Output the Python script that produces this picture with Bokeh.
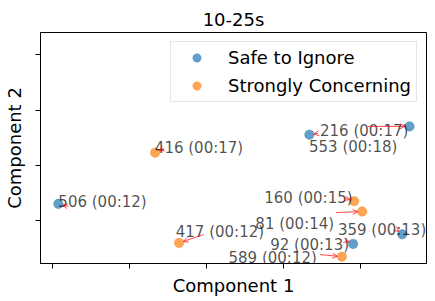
from bokeh.plotting import figure
from bokeh.models import (ColumnDataSource, Arrow, OpenHead, Legend, LegendItem,
                          Range1d, FixedTicker)
from bokeh.embed import file_html
from bokeh.resources import INLINE
from bokeh.core.properties import value
import numpy as np

# ---- data ----
labels = ["506 (00:12)", "553 (00:18)", "216 (00:17)", "359 (00:13)", "92 (00:13)",
          "417 (00:12)", "416 (00:17)", "160 (00:15)", "81 (00:14)", "589 (00:12)"]
category = ["Safe to Ignore"] * 5 + ["Strongly Concerning"] * 5
comp1 = [-1.928, 1.337, 2.639, 2.544, 1.906, -0.358, -0.669, 1.919, 2.023, 1.759]
comp2 = [-0.693, 0.555, 0.705, -1.242, -1.416, -1.398, 0.230, -0.645, -0.832, -1.646]
# label anchor (left, baseline) positions
label_x = [-1.928, 1.332, 1.475, 1.708, 0.828, -0.401, -0.673, 0.750, 0.634, 0.285]
label_y = [-0.651, 0.325, 0.615, -1.157, -1.429, -1.193, 0.307, -0.579, -1.049, -1.664]
# arrow tails
tail_x = [-1.798, 1.449, 2.096, 2.484, 1.811, -0.039, -0.556, 1.785, 1.682, 1.475]
tail_y = [-0.741, 0.579, 0.705, -1.175, -1.356, -1.248, 0.307, -0.579, -0.850, -1.609]
x_ticks = [-2, -1, 0, 1, 2]
y_ticks = [-1, 0, 1, 2]
x_lim = (-2.16, 2.86)
y_lim = (-1.77, 2.40)

colors = {"Safe to Ignore": "#1f77b4", "Strongly Concerning": "#ff7f0e"}

W, H = 428, 300
ML, MR, MT, MB = 38, 2, 32, 37
FONT = "DejaVu Sans"

p = figure(width=W, height=H, output_backend="svg", toolbar_location=None,
           x_range=Range1d(*x_lim), y_range=Range1d(*y_lim),
           min_border_left=ML, min_border_right=MR, min_border_top=MT, min_border_bottom=MB)
p.background_fill_color = "white"
p.border_fill_color = "white"
p.grid.visible = False
p.outline_line_color = "black"
p.outline_line_width = 1
p.outline_line_alpha = 1

p.title.text = "10-25s"
p.title.align = "center"
p.title.text_font = FONT
p.title.text_font_size = "18px"
p.title.text_font_style = "normal"
p.title.text_color = "black"
p.title.standoff = 5

p.xaxis.ticker = FixedTicker(ticks=x_ticks)
p.yaxis.ticker = FixedTicker(ticks=y_ticks)
p.xaxis.major_label_overrides = {t: "" for t in x_ticks}
p.yaxis.major_label_overrides = {t: "" for t in y_ticks}
for ax in (p.xaxis, p.yaxis):
    ax.major_label_text_font_size = "1px"
    ax.major_label_standoff = 0
    ax.minor_tick_line_color = None
    ax.major_tick_in = 0
    ax.major_tick_out = 5
    ax.major_tick_line_color = "black"
    ax.axis_line_color = "black"
    ax.axis_label_text_font = FONT
    ax.axis_label_text_font_size = "18px"
    ax.axis_label_text_font_style = "normal"
    ax.axis_label_text_color = "black"
p.xaxis.axis_label = "Component 1"
p.yaxis.axis_label = "Component 2"
p.xaxis.axis_label_standoff = 6
p.yaxis.axis_label_standoff = 11

# points
renderers = []
for cat in ["Safe to Ignore", "Strongly Concerning"]:
    idx = [i for i, c in enumerate(category) if c == cat]
    src = ColumnDataSource(dict(x=[comp1[i] for i in idx], y=[comp2[i] for i in idx]))
    r = p.scatter("x", "y", source=src, size=9.5, fill_color=colors[cat], fill_alpha=0.7,
                  line_color=colors[cat], line_alpha=0.7, line_width=0.5)
    renderers.append((cat, r))

# arrows: shrink head back from point centre by a few px
frame_w = W - ML - MR
frame_h = H - MT - MB
sx = frame_w / (x_lim[1] - x_lim[0])
sy = frame_h / (y_lim[1] - y_lim[0])
px = np.array(comp1) * sx
py = np.array(comp2) * sy
tx = np.array(tail_x) * sx
ty = np.array(tail_y) * sy
dx, dy = px - tx, py - ty
d = np.hypot(dx, dy)
d[d == 0] = 1
shrink = 4.5
hx = (px - dx / d * shrink) / sx
hy = (py - dy / d * shrink) / sy
arrow_src = ColumnDataSource(dict(x0=tail_x, y0=tail_y, x1=list(hx), y1=list(hy)))
p.add_layout(Arrow(source=arrow_src, x_start="x0", y_start="y0", x_end="x1", y_end="y1",
                   line_color="red", line_width=0.8, line_alpha=0.9,
                   end=OpenHead(size=5, line_color="red", line_width=0.8, line_alpha=0.9)))

text_src = ColumnDataSource(dict(x=label_x, y=label_y, t=labels))
p.text("x", "y", text="t", source=text_src, text_font=value(FONT), text_font_size="15px",
       text_color="black", text_alpha=0.7, text_baseline="alphabetic", text_align="left")

legend = Legend(items=[LegendItem(label=c, renderers=[r]) for c, r in renderers],
                location="top_right")
legend.label_text_font = FONT
legend.label_text_font_size = "18px"
legend.label_text_color = "black"
legend.label_height = 21
legend.label_width = 182
legend.border_line_color = "#cccccc"
legend.border_line_width = 1
legend.background_fill_color = "white"
legend.background_fill_alpha = 0.8
legend.padding = 5
legend.spacing = 7
legend.glyph_width = 41
legend.glyph_height = 21
legend.label_standoff = 11
legend.margin = 9
p.add_layout(legend)

open("out.html", "w").write(file_html(p, INLINE))
